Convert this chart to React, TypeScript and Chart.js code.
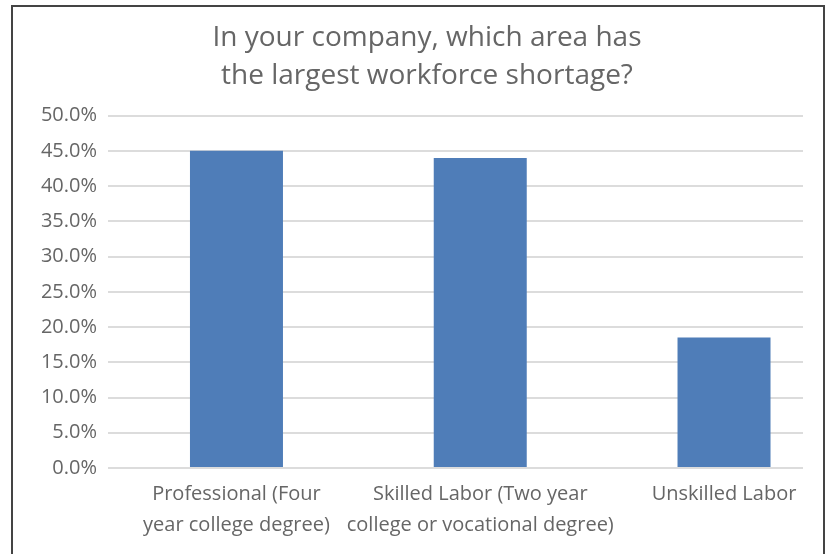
import React, { useEffect, useRef } from "react";
import { Chart, registerables } from "chart.js";

Chart.register(...registerables);

const titleLines = ["In your company, which area has", "the largest workforce shortage?"];
const categories = [
  ["Professional (Four", "year college degree)"],
  ["Skilled Labor (Two year", "college or vocational degree)"],
  ["Unskilled Labor"],
];
const categoryIndex = [0, 1, 2];
const shareValues = [45.0, 44.0, 18.5];
const yTicks = [0, 5, 10, 15, 20, 25, 30, 35, 40, 45, 50];

const FONT = "'Open Sans', 'Noto Sans', sans-serif";
const TEXT = "#666666";

export default function App() {
  const ref = useRef<HTMLCanvasElement | null>(null);

  useEffect(() => {
    const canvas = ref.current;
    if (!canvas) return;
    const chart = new Chart(canvas, {
      type: "bar",
      data: {
        datasets: [
          {
            data: categoryIndex.map((x, i) => ({ x, y: shareValues[i] })),
            backgroundColor: "#4f7db8",
            borderWidth: 0,
            barPercentage: 0.3815,
            categoryPercentage: 1,
            yAxisID: "y",
            xAxisID: "x",
          },
        ],
      },
      options: {
        responsive: false,
        animation: false,
        devicePixelRatio: 1,
        layout: { padding: { left: 27, right: 0, top: 0, bottom: 0 } },
        plugins: {
          legend: { display: false },
          tooltip: { enabled: false },
          title: {
            display: true,
            text: titleLines,
            color: TEXT,
            font: { family: FONT, size: 28, weight: "normal", lineHeight: 1.35 },
            padding: { top: 19, bottom: 21 },
          },
        },
        scales: {
          x: {
            type: "linear",
            offset: false,
            min: -0.527,
            max: 2.324,
            grid: { display: false, drawTicks: false, offset: false },
            border: { display: false },
            afterBuildTicks: (scale: any) => {
              scale.ticks = categoryIndex.map((v) => ({ value: v }));
            },
            afterFit: (scale: any) => {
              scale.height = 86;
            },
            ticks: {
              autoSkip: false,
              maxRotation: 0,
              minRotation: 0,
              padding: 11,
              color: TEXT,
              font: { family: FONT, size: 20, lineHeight: 1.55 },
              callback: (v: any) => categories[v as number] ?? "",
            },
          },
          y: {
            position: "left",
            min: 0,
            max: 50,
            grid: { color: "#dcdcdc", lineWidth: 2, drawTicks: false },
            border: { display: false },
            afterBuildTicks: (scale: any) => {
              scale.ticks = yTicks.map((v) => ({ value: v }));
            },
            afterFit: (scale: any) => {
              scale.width = 81;
            },
            ticks: {
              padding: 11,
              color: TEXT,
              font: { family: FONT, size: 20 },
              callback: (v: any) => Number(v).toFixed(1) + "%",
            },
          },
          yRight: {
            position: "right",
            min: 0,
            max: 50,
            grid: { display: false, drawTicks: false },
            border: { display: false },
            ticks: { display: false },
            afterFit: (scale: any) => {
              scale.width = 24;
            },
          },
        },
      },
    });
    return () => chart.destroy();
  }, []);

  return (
    <div
      style={{
        position: "fixed",
        left: 0,
        top: 0,
        width: 827,
        height: 554,
        overflow: "hidden",
        background: "#ffffff",
      }}
    >
      <div
        style={{
          position: "absolute",
          left: 11,
          top: 5,
          width: 810,
          height: 600,
          border: "2px solid #444444",
        }}
      />
      <canvas
        ref={ref}
        width={827}
        height={554}
        style={{ position: "absolute", left: 0, top: 0, width: 827, height: 554 }}
      />
    </div>
  );
}
